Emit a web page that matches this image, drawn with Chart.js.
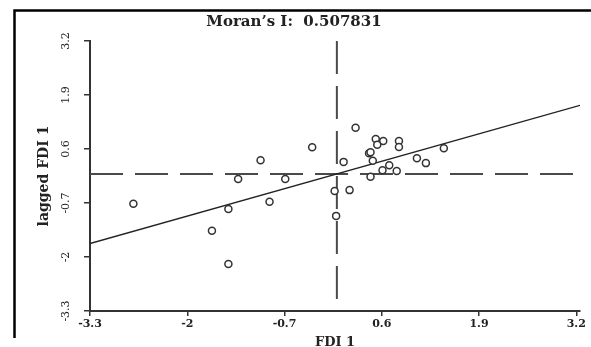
<!DOCTYPE html>
<html>
<head>
<meta charset="utf-8">
<script src="https://cdn.jsdelivr.net/npm/chart.js@4/dist/chart.umd.min.js"></script>
<style>
  html, body { margin: 0; padding: 0; background: #fff; }
  #wrap { width: 591px; height: 347px; position: relative; }
</style>
</head>
<body>
<div id="wrap"><canvas id="c"></canvas></div>
<script>
// ---- data ----
const fdi = [-2.72, -1.45, -1.67, -1.45, -1.32, -1.02, -0.90, -0.69, -0.33, -0.03,
             -0.01, 0.17, 0.09, 0.25, 0.52, 0.62, 0.54, 0.83, 0.83, 0.43,
             0.45, 0.48, 0.70, 0.61, 0.80, 0.45, 1.07, 1.19, 1.43];
const laggedFdi = [-0.72, -0.845, -1.37, -2.17, -0.12, 0.33, -0.67, -0.12, 0.64, -0.41,
                   -1.01, -0.39, 0.29, 1.11, 0.84, 0.79, 0.70, 0.79, 0.65, 0.50,
                   0.52, 0.32, 0.21, 0.09, 0.07, -0.07, 0.38, 0.26, 0.62];
const xTicks = [-3.3, -2, -0.7, 0.6, 1.9, 3.2];
const yTicks = [-3.3, -2, -0.7, 0.6, 1.9, 3.2];
const xBounds = [-3.3, 3.25];
const yBounds = [-3.3, 3.2];
const moranI = 0.507831;
const meanX = [0];
const meanY = [0];
const titleText = "Moran\u2019s I:  0.507831";
const xTitle = "FDI 1";
const yTitle = "lagged FDI 1";

const points = fdi.map((v, i) => ({ x: v, y: laggedFdi[i] }));
const fitLine = xBounds.map(v => ({ x: v, y: moranI * v }));
const vLine = [yBounds[1], yBounds[0]].map(v => ({ x: meanX[0], y: v }));
const hLine = [xTicks[0], xTicks[xTicks.length - 1]].map(v => ({ x: v, y: meanY[0] }));

const framePlugin = {
  id: 'frame',
  beforeDraw(chart) {
    const ctx = chart.ctx;
    ctx.save();
    ctx.fillStyle = '#fff';
    ctx.fillRect(0, 0, chart.width, chart.height);
    ctx.strokeStyle = '#000';
    ctx.lineWidth = 2.5;
    ctx.beginPath();
    ctx.moveTo(14.5, 338);
    ctx.lineTo(14.5, 10.5);
    ctx.lineTo(chart.width, 10.5);
    ctx.stroke();
    ctx.restore();
  }
};

new Chart(document.getElementById('c'), {
  type: 'scatter',
  data: {
    datasets: [
      {
        type: 'line', data: hLine, borderColor: '#4a4a4a', borderWidth: 2,
        borderDash: [33, 12], pointRadius: 0, fill: false, order: 3
      },
      {
        type: 'line', data: vLine, borderColor: '#4a4a4a', borderWidth: 2,
        borderDash: [33, 12], pointRadius: 0, fill: false, order: 3
      },
      {
        type: 'line', data: fitLine, borderColor: '#222', borderWidth: 1.3,
        pointRadius: 0, fill: false, order: 2
      },
      {
        data: points, pointRadius: 3.5, pointBorderWidth: 1.5,
        borderColor: '#333', backgroundColor: '#fff', order: 1
      }
    ]
  },
  options: {
    responsive: true,
    maintainAspectRatio: false,
    animation: false,
    events: [],
    layout: { padding: { top: 0, right: 11, bottom: 0, left: 8 } },
    plugins: {
      legend: { display: false },
      tooltip: { enabled: false },
      title: {
        display: true,
        text: titleText,
        color: '#222',
        font: { family: 'DejaVu Serif', size: 15, weight: 'bold', lineHeight: 1.2 },
        padding: { top: 13, bottom: 10 }
      }
    },
    scales: {
      x: {
        type: 'linear',
        min: xBounds[0], max: xBounds[1],
        afterBuildTicks: s => { s.ticks = xTicks.map(v => ({ value: v })); },
        afterFit: s => { s.height = 36; },
        grid: { display: true, drawOnChartArea: false, drawTicks: true, tickLength: 5, color: '#333', lineWidth: 1.5 },
        border: { display: true, color: '#333', width: 2 },
        ticks: {
          color: '#222', padding: 2, maxRotation: 0, autoSkip: false,
          font: { family: 'DejaVu Serif', size: 11, weight: 'bold' },
          callback: v => String(v)
        },
        title: {
          display: true, text: xTitle, color: '#222',
          font: { family: 'DejaVu Serif', size: 13, weight: 'bold', lineHeight: 1 },
          padding: { top: 0, bottom: -2 }
        }
      },
      y: {
        type: 'linear',
        min: yBounds[0], max: yBounds[1],
        afterBuildTicks: s => { s.ticks = yTicks.map(v => ({ value: v })); },
        afterFit: s => { s.width = 82; },
        grid: { display: true, drawOnChartArea: false, drawTicks: true, tickLength: 6, color: '#333', lineWidth: 1.5 },
        border: { display: true, color: '#333', width: 2 },
        ticks: {
          color: '#222', padding: 7, minRotation: 90, maxRotation: 90, autoSkip: false,
          crossAlign: 'center',
          font: { family: 'DejaVu Serif', size: 11 },
          callback: v => String(v)
        },
        title: {
          display: true, text: yTitle, color: '#222',
          font: { family: 'DejaVu Serif', size: 14, weight: 'bold', lineHeight: 1.2 },
          padding: { top: 28, bottom: 0 }
        }
      }
    }
  },
  plugins: [framePlugin]
});
</script>
</body>
</html>
